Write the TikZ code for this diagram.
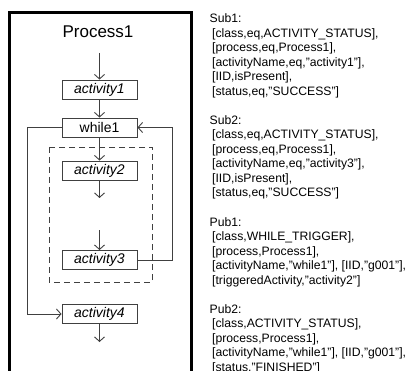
\documentclass[tikz,border=0pt]{standalone}
\usepackage{fontspec}
\setmainfont{Liberation Sans}
\usetikzlibrary{arrows.meta}
\definecolor{linegray}{RGB}{64,64,64}
\begin{document}
\begin{tikzpicture}[x=1pt,y=-1pt,
  ln/.style={draw=linegray, line width=0.9pt},
  arr/.style={ln, -{Straight Barb[length=4.5pt,width=10pt]}},
  actbox/.style={draw=linegray, line width=0.9pt, minimum width=75pt, minimum height=19pt, inner sep=0pt, font=\fontsize{14}{16}\selectfont\itshape},
  ctlbox/.style={actbox, font=\fontsize{14}{16}\selectfont},
  info/.style={anchor=base west, inner sep=0pt, font=\fontsize{12.2}{14}\selectfont}
]
\useasboundingbox (0,0) rectangle (409,371);
\begin{scope}
\clip (0,0) rectangle (409,371);
\draw[line width=3pt] (9,380) -- (9,13) -- (191,13) -- (191,380);
\end{scope}
\node[font=\fontsize{17}{20}\selectfont] (title) at (98,32) {Process1};
\node[actbox] (a1) at (99.5,89.5) {activity1};
\node[ctlbox] (w1) at (99.5,127.5) {while1};
\node[actbox] (a2) at (99.5,170.5) {activity2};
\node[actbox] (a3) at (99.5,260) {activity3};
\node[actbox] (a4) at (99.5,314) {activity4};
\coordinate (s0) at (99.5,53);
\coordinate (e2) at (99.5,198);
\coordinate (s3) at (99.5,230);
\coordinate (e4) at (99.5,342);
\coordinate (lft) at (27,314);
\coordinate (rgt) at (172,260);
\draw[linegray, line width=0.9pt, dash pattern=on 6pt off 4pt] (49,147) rectangle (152,282);
\draw[arr] (s0) -- (a1);
\draw[arr] (a1) -- (w1);
\draw[arr] (w1) -- (a2);
\draw[arr] (a2) -- (e2);
\draw[arr] (s3) -- (a3);
\draw[arr] (a4) -- (e4);
\draw[arr] (w1.west) -| (lft) -- (a4.west);
\draw[arr] (a3.east) -- (rgt) |- (w1.east);
\begin{scope}
\clip (0,0) rectangle (409,371);
\foreach \txt [count=\i from 0] in {
  {Sub1:},
  {\hspace*{2.5pt}[class,eq,ACTIVITY\_STATUS],},
  {\hspace*{2.5pt}[process,eq,Process1],},
  {\hspace*{2.5pt}[activityName,eq,"activity1"],},
  {\hspace*{2.5pt}[IID,isPresent],},
  {\hspace*{2.5pt}[status,eq,"SUCCESS"]},
  {},
  {Sub2:},
  {\hspace*{2.5pt}[class,eq,ACTIVITY\_STATUS],},
  {\hspace*{2.5pt}[process,eq,Process1],},
  {\hspace*{2.5pt}[activityName,eq,"activity3"],},
  {\hspace*{2.5pt}[IID,isPresent],},
  {\hspace*{2.5pt}[status,eq,"SUCCESS"]},
  {},
  {Pub1:},
  {\hspace*{2.5pt}[class,WHILE\_TRIGGER],},
  {\hspace*{2.5pt}[process,Process1],},
  {\hspace*{2.5pt}[activityName,"while1"], [IID,"g001"],},
  {\hspace*{2.5pt}[triggeredActivity,"activity2"]},
  {},
  {Pub2:},
  {\hspace*{2.5pt}[class,ACTIVITY\_STATUS],},
  {\hspace*{2.5pt}[process,Process1],},
  {\hspace*{2.5pt}[activityName,"while1"], [IID,"g001"],},
  {\hspace*{2.5pt}[status,"FINISHED"]}
}{
  \node[info] (line\i) at (209.5,{23+14.5*\i}) {\txt};
}
\end{scope}
\end{tikzpicture}
\end{document}
